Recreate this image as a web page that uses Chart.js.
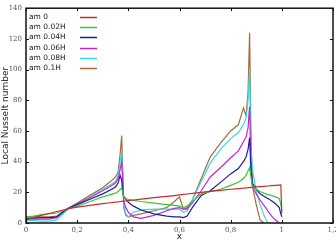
<!DOCTYPE html>
<html>
<head>
<meta charset="utf-8">
<script src="https://cdn.jsdelivr.net/npm/chart.js@4.4.1/dist/chart.umd.min.js"></script>
<style>
html, body { margin: 0; padding: 0; background: #fff; overflow: hidden; }
#wrap { width: 336px; height: 242px; }
</style>
</head>
<body>
<div id="wrap"><canvas id="nusselt"></canvas></div>
<script>
// position along the wall (shared by every curve)
const xValues = [0, 0.03, 0.06, 0.09, 0.12, 0.145, 0.17, 0.2,
    0.25, 0.3, 0.33, 0.35, 0.36, 0.368, 0.374, 0.378,
    0.382, 0.39, 0.4, 0.42, 0.45, 0.5, 0.55, 0.58,
    0.6, 0.615, 0.63, 0.65, 0.685, 0.72, 0.76, 0.8,
    0.83, 0.85, 0.86, 0.868, 0.874, 0.879, 0.885, 0.9,
    0.915, 0.93, 0.945, 0.96, 0.975, 0.99, 0.996, 1.0]

const labels = ["am 0", "am 0.02H", "am 0.04H", "am 0.06H", "am 0.08H", "am 0.1H"]
const colors = ["#cc2a2a", "#33cc33", "#1c1ca0", "#cc22cc", "#33dddd", "#a8693c"]

const am0 = [2, 3.5, 5, 6.2, 7.5, 8.5, 9.5, 10.3,
    11.5, 12.6, 13.2, 13.6, 13.8, 14, 14.1, 14.2,
    14.3, 14.4, 14.6, 15, 15.6, 16.5, 17.4, 17.9,
    18.3, 18.6, 18.9, 19.3, 20, 20.6, 21.3, 22,
    22.4, 22.7, 22.9, 23, 23.1, 23.2, 23.3, 23.5,
    23.7, 23.9, 24.1, 24.3, 24.5, 24.7, 24.8, 6]

const am002 = [4, 4.5, 5.5, 6, 6.5, 8, 9.5, 11,
    14, 17, 18.5, 19.5, 20.5, 22, 22.5, 20,
    17, 16, 15.5, 14.8, 14, 13, 12, 11.5,
    11, 10, 11, 14, 19, 20.5, 22, 24.5,
    26.5, 29, 31, 34, 36, 30, 24, 22,
    20.5, 19.5, 18.5, 18, 17, 16, 12, 8]

const am004 = [3, 3.2, 3.5, 3.5, 4, 7.5, 10, 12,
    15.5, 19, 21.5, 23.5, 26, 31, 28, 20,
    17.5, 15.5, 13.5, 11, 8.5, 6, 4.5, 4,
    4, 3.5, 4.5, 10, 18, 21, 26.5, 32,
    35.5, 40, 43, 48, 55.5, 35, 26, 22,
    19, 17.5, 16, 14.5, 12.5, 10, 6, 4]

const am006 = [2.5, 2.5, 2.5, 2.5, 3.5, 7, 10, 12.5,
    16.5, 21, 24, 26, 29, 35, 40, 28,
    14, 10, 7, 4, 3, 5, 8, 9.5,
    10, 9, 9, 13, 21, 30, 36, 42.5,
    47, 53, 56, 62, 76, 40, 24, 19,
    15, 11.5, 8, 4.5, 2, 0, null, null]

const am008 = [1.5, 1.5, 1.2, 1.2, 2, 6, 9.8, 12.5,
    17, 22, 25, 27, 31, 40, 47, 30,
    12, 6, 4, 7, 8.5, 9, 9, 9,
    9, 7, 8, 15, 27, 39, 48, 55,
    59, 64, 68, 80, 100, 50, 35, 21,
    12, 5, 0, null, null, null, null, null]

const am01 = [4, 4, 4, 4, 4.5, 7, 10, 13,
    18, 23, 27, 30, 33, 45, 57, 35,
    10, 5, 4, 5, 6, 8, 10, 14,
    17, 9, 10, 15, 29, 43, 52, 60,
    64, 75, 70, 85, 124, 60, 24, 12,
    2, 0, null, null, null, null, null, null]

const series = [am0, am002, am004, am006, am008, am01]

const tickFont = { family: "DejaVu Serif", size: 7 }

// gnuplot-like frame, inward tick marks and key in the top left corner
const frameAndKey = {
    id: 'frameAndKey',
    afterDatasetsDraw(chart) {
        const { ctx, chartArea: a, scales } = chart
        const x = scales.x, y = scales.y
        ctx.save()
        ctx.strokeStyle = '#111'
        ctx.lineWidth = 1
        ctx.beginPath()
        x.ticks.forEach(t => {
            const px = Math.round(x.getPixelForValue(t.value)) + 0.5
            ctx.moveTo(px, a.bottom); ctx.lineTo(px, a.bottom - 3)
            ctx.moveTo(px, a.top); ctx.lineTo(px, a.top + 3)
        })
        y.ticks.forEach(t => {
            const py = Math.round(y.getPixelForValue(t.value)) + 0.5
            ctx.moveTo(a.left, py); ctx.lineTo(a.left + 3, py)
            ctx.moveTo(a.right, py); ctx.lineTo(a.right - 3, py)
        })
        ctx.stroke()
        ctx.lineWidth = 1.5
        ctx.strokeRect(a.left, a.top, a.right - a.left, a.bottom - a.top)

        ctx.font = '7.5px "DejaVu Sans"'
        ctx.fillStyle = '#222'
        ctx.textBaseline = 'middle'
        chart.data.datasets.forEach((ds, i) => {
            const ty = a.top + 8.5 + i * 10.3
            ctx.fillText(ds.label, a.left + 3, ty)
            ctx.strokeStyle = ds.borderColor
            ctx.lineWidth = 1.5
            ctx.beginPath()
            ctx.moveTo(a.left + 54, Math.round(ty) + 0.5)
            ctx.lineTo(a.left + 71, Math.round(ty) + 0.5)
            ctx.stroke()
        })
        ctx.restore()
    }
}

const ctx = document.getElementById('nusselt')
const nuChart = new Chart(ctx, {
    type: 'line',
    data: {
        datasets: series.map((ys, i) => ({
            label: labels[i],
            data: xValues.map((xv, j) => ({ x: xv, y: ys[j] })),
            borderColor: colors[i],
            backgroundColor: colors[i],
            borderWidth: 1.2,
            pointRadius: 0,
            tension: 0,
            spanGaps: false
        }))
    },
    options: {
        responsive: true,
        maintainAspectRatio: false,
        animation: false,
        devicePixelRatio: 1,
        layout: { padding: { top: 5, right: 3, left: 0, bottom: 0 } },
        plugins: {
            legend: { display: false },
            tooltip: { enabled: false }
        },
        scales: {
            x: {
                type: 'linear',
                min: 0,
                max: 1.2,
                grid: { display: false, drawTicks: false },
                border: { display: false },
                ticks: {
                    stepSize: 0.2,
                    autoSkip: false,
                    maxRotation: 0,
                    padding: 3,
                    color: '#555',
                    font: tickFont,
                    callback: v => String(Math.round(v * 10) / 10).replace('.', ',')
                },
                title: { display: true, text: 'x', color: '#222', font: { family: "DejaVu Sans", size: 9 }, padding: 0 },
                afterFit(s) { s.height = 19; s.paddingRight = 0; s.paddingLeft = 0 }
            },
            y: {
                min: 0,
                max: 140,
                grid: { display: false, drawTicks: false },
                border: { display: false },
                ticks: { stepSize: 20, padding: 4, color: '#555', font: tickFont },
                title: { display: true, text: 'Local Nusselt number', color: '#222', font: { family: "DejaVu Sans", size: 9 }, padding: 0 },
                afterFit(s) { s.width = 26 }
            }
        }
    },
    plugins: [frameAndKey]
})
</script>
</body>
</html>
